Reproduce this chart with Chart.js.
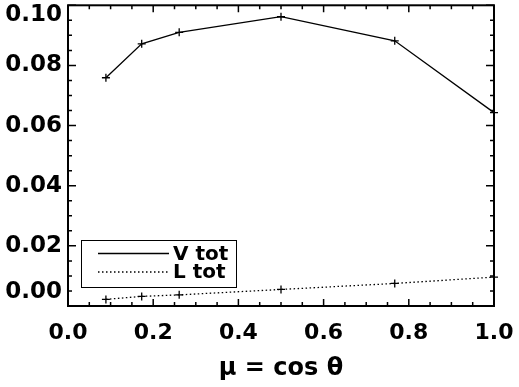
<!DOCTYPE html>
<html>
<head>
<meta charset="utf-8">
<script src="https://cdn.jsdelivr.net/npm/chart.js@4"></script>
<style>
  body { margin: 0; background: #fff; }
</style>
</head>
<body>
<canvas id="muChart" width="519" height="387"></canvas>
<script>
// values
const mu = [0.089, 0.173, 0.261, 0.5, 0.767, 1.0];
const vTot = [0.0759, 0.0872, 0.091, 0.0962, 0.0882, 0.0643];
const lTot = [0.0022, 0.0032, 0.0037, 0.0055, 0.0075, 0.0096];
const seriesNames = ["V tot", "L tot"];
const xTicks = [0.0, 0.2, 0.4, 0.6, 0.8, 1.0];
const yTicks = [0.0, 0.02, 0.04, 0.06, 0.08, 0.1];
const xTitle = "\u03bc = cos \u03b8";

const tickFont = { family: "DejaVu Sans", weight: "bold", size: 22 };

// axis box with inward major/minor ticks on all four sides, plus y labels
const frame = {
  id: "frame",
  afterDraw(chart) {
    const ctx = chart.ctx;
    const a = chart.chartArea;
    const xs = chart.scales.x;
    const ys = chart.scales.y;
    ctx.save();
    ctx.strokeStyle = "#000";
    ctx.lineWidth = 2;
    ctx.strokeRect(a.left, a.top, a.right - a.left, a.bottom - a.top);

    ctx.lineWidth = 1.5;
    ctx.beginPath();
    // x: minor every 0.05, major every 0.2
    for (let i = 0; i <= 20; i++) {
      const px = xs.getPixelForValue(i * 0.05);
      const len = i % 4 === 0 ? 7 : 4;
      ctx.moveTo(px, a.bottom);
      ctx.lineTo(px, a.bottom - len);
      ctx.moveTo(px, a.top);
      ctx.lineTo(px, a.top + len);
    }
    // y: minor every 0.005, major every 0.02
    for (let i = 0; i <= 20; i++) {
      const py = ys.getPixelForValue(i * 0.005);
      const len = i % 4 === 0 ? 8 : 4;
      ctx.moveTo(a.left, py);
      ctx.lineTo(a.left + len, py);
      ctx.moveTo(a.right, py);
      ctx.lineTo(a.right - len, py);
    }
    ctx.stroke();

    // y tick labels, end ones pulled inside the box like the original
    ctx.fillStyle = "#000";
    ctx.font = "bold 23px 'DejaVu Sans'";
    ctx.textAlign = "right";
    ctx.textBaseline = "middle";
    ys.ticks.forEach((t) => {
      let py = ys.getPixelForValue(t.value);
      py = Math.max(py, a.top + 10);
      py = Math.min(py, a.bottom - 14);
      ctx.fillText(t.value.toFixed(2), a.left - 6, py);
    });
    ctx.restore();
  },
};

// boxed legend in the lower left of the plot
const legendBox = {
  id: "legendBox",
  afterDraw(chart) {
    const ctx = chart.ctx;
    const a = chart.chartArea;
    const bx = a.left + 13;
    const by = a.bottom - 66;
    const bw = 155;
    const bh = 47;
    ctx.save();
    ctx.strokeStyle = "#000";
    ctx.lineWidth = 1;
    ctx.strokeRect(bx + 0.5, by + 0.5, bw, bh);
    ctx.font = "bold 20px 'DejaVu Sans'";
    ctx.fillStyle = "#000";
    ctx.textAlign = "left";
    ctx.textBaseline = "middle";
    chart.data.datasets.forEach((ds, i) => {
      const ly = by + 13.5 + i * 18.5;
      ctx.lineWidth = ds.borderWidth;
      ctx.setLineDash(ds.borderDash || []);
      ctx.beginPath();
      ctx.moveTo(bx + 17, ly);
      ctx.lineTo(bx + 88, ly);
      ctx.stroke();
      ctx.setLineDash([]);
      ctx.fillText(ds.label, bx + 92, ly + 1);
    });
    ctx.restore();
  },
};

const ctx = document.getElementById("muChart").getContext("2d");
const muChart = new Chart(ctx, {
  type: "line",
  data: {
    datasets: [
      {
        label: seriesNames[0],
        data: mu.map((m, i) => ({ x: m, y: vTot[i] })),
        borderColor: "#000",
        borderWidth: 1.3,
        pointStyle: "cross",
        pointRadius: 4,
        pointBorderColor: "#000",
        pointBorderWidth: 1.3,
        fill: false,
        tension: 0,
        clip: false,
      },
      {
        label: seriesNames[1],
        data: mu.map((m, i) => ({ x: m, y: lTot[i] })),
        borderColor: "#000",
        borderWidth: 1.3,
        borderDash: [1.5, 2.5],
        pointStyle: "cross",
        pointRadius: 4,
        pointBorderColor: "#000",
        pointBorderWidth: 1.3,
        fill: false,
        tension: 0,
        clip: false,
      },
    ],
  },
  options: {
    responsive: false,
    animation: false,
    layout: { padding: { top: 5, right: 25, left: 0, bottom: 0 } },
    plugins: {
      legend: { display: false },
      tooltip: { enabled: false },
    },
    scales: {
      x: {
        type: "linear",
        min: 0,
        max: 1,
        afterBuildTicks: (s) => {
          s.ticks = xTicks.map((v) => ({ value: v }));
        },
        afterFit: (s) => {
          s.height = 81;
          s.paddingLeft = 0;
          s.paddingRight = 0;
        },
        grid: { display: false, drawTicks: false },
        border: { display: false },
        ticks: {
          padding: 14,
          color: "#000",
          font: tickFont,
          maxRotation: 0,
          callback: (v) => Number(v).toFixed(1),
        },
        title: {
          display: true,
          text: xTitle,
          color: "#000",
          font: { family: "DejaVu Sans", weight: "bold", size: 24 },
          padding: { top: 0, bottom: 4 },
        },
      },
      y: {
        type: "linear",
        min: 0,
        max: 0.1,
        afterBuildTicks: (s) => {
          s.ticks = yTicks.map((v) => ({ value: v }));
        },
        afterFit: (s) => {
          s.width = 68;
        },
        grid: { display: false, drawTicks: false },
        border: { display: false },
        ticks: { display: false },
      },
    },
  },
  plugins: [frame, legendBox],
});
</script>
</body>
</html>
